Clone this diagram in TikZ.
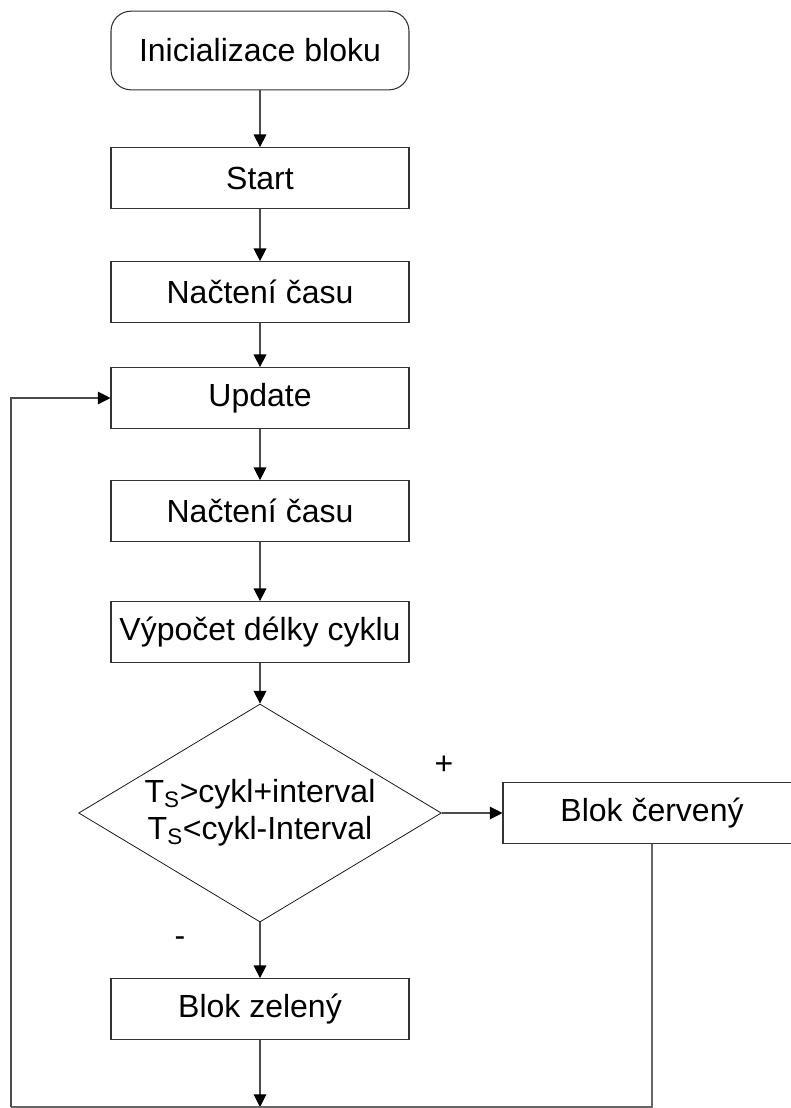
\documentclass[tikz,border=0pt]{standalone}
\usepackage{fontspec}
\setmainfont{Liberation Sans}
\usetikzlibrary{shapes.geometric,arrows.meta}

\tikzset{
  block/.style={draw=black!80, line width=0.8pt, minimum width=223.5pt, minimum height=45.5pt, inner sep=0pt},
  startblock/.style={block, rounded corners=15pt, minimum height=59pt},
  decision/.style={draw=black!90, line width=0.6pt, diamond, minimum width=272pt, minimum height=163.5pt, inner sep=0pt},
  flow/.style={draw=black!70, line width=0.8pt, -{Triangle[length=9.5pt,width=9.5pt,color=black]}},
  line/.style={draw=black!60, line width=0.8pt},
}

\begin{document}
\begin{tikzpicture}[x=0.75pt,y=0.75pt,yscale=-1,xscale=1, font=\fontsize{24}{28}\selectfont]

\useasboundingbox (0,0) rectangle (790,1108);

%%%%%%%%%%%%%%%%%%%%%%%%%%%%%%%%%%%%%%%%%%%%%%%%%%%%%%%%%%%%%%%%%%%%%%%%

\node [startblock] (init) at (260, 50.5) {Inicializace bloku};
\node [block] (start) at (260, 178) {Start};
\node [block] (read1) at (260, 292) {Načtení času};
\node [block] (update) at (260, 398) {Update};
\node [block] (read2) at (260, 511) {Načtení času};
\node [block] (calc) at (260, 632) {Výpočet délky cyklu};

\node [decision, label={[align=center]center:{T\textsubscript{S}>cykl+interval\\T\textsubscript{S}<cykl-Interval}}] (cond) at (260, 813) {};

\node [block] (red) at (652, 813) {Blok červený};
\node [block] (green) at (260, 1009) {Blok zelený};

\node (plus) at (444, 765) {+};
\node (minus) at (180, 942) {-};

%%%%%%%%%%%%%%%%%%%%%%%%%%%%%%%%%%%%%%%%%%%%%%%%%%%%%%%%%%%%%%%%%%%%%%%%

\coordinate (join) at (260, 1107);
\coordinate (redcorner) at (652, 1107);
\coordinate (leftcorner) at (11, 1107);

\draw [flow] (init) -- (start);
\draw [flow] (start) -- (read1);
\draw [flow] (read1) -- (update);
\draw [flow] (update) -- (read2);
\draw [flow] (read2) -- (calc);
\draw [flow] (calc) -- (cond);
\draw [flow] (cond) -- (red);
\draw [flow] (cond) -- (green);
\draw [flow] (green) -- (join);

\draw [line] (red) -- (redcorner) -- (leftcorner);
\draw [flow] (leftcorner) |- (update);

%%%%%%%%%%%%%%%%%%%%%%%%%%%%%%%%%%%%%%%%%%%%%%%%%%%%%%%%%%%%%%%%%%%%%%%%

\end{tikzpicture}
\end{document}
